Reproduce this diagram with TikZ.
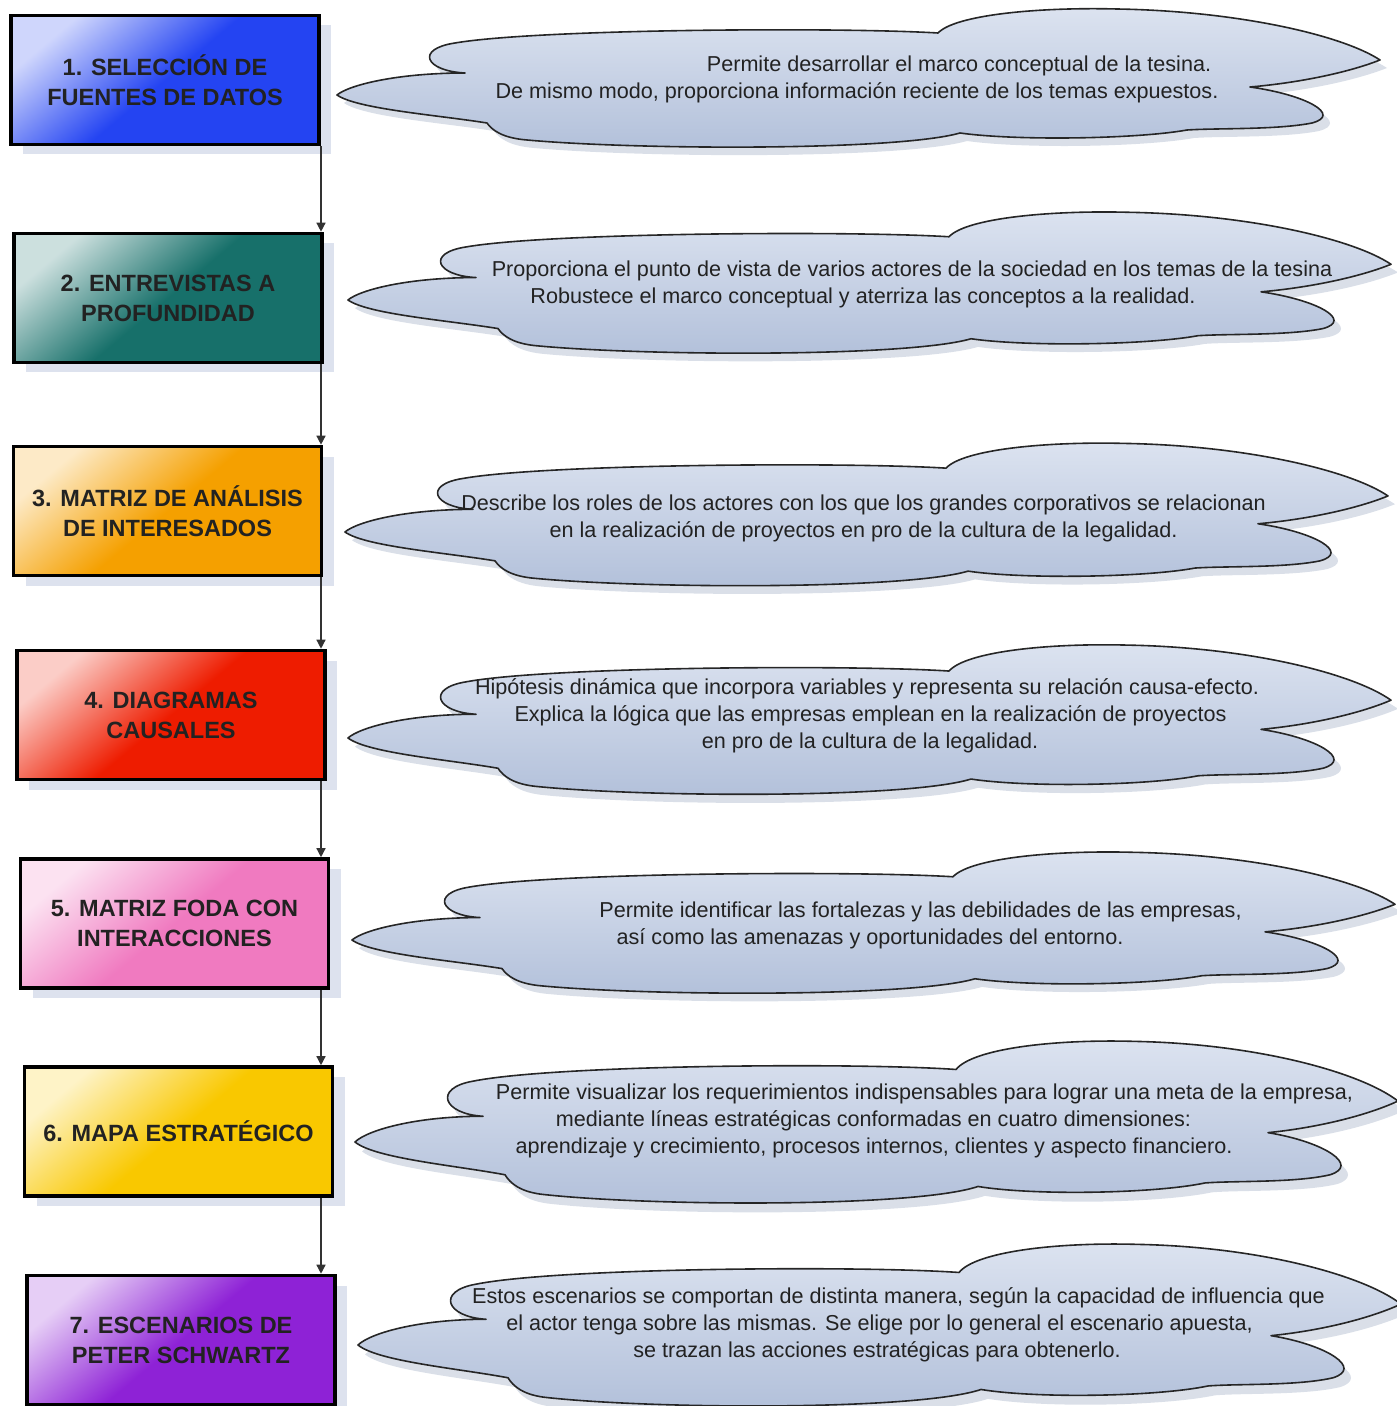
\documentclass[tikz,border=0pt]{standalone}
\usepackage{fontspec}
\setmainfont{Liberation Sans}
\usetikzlibrary{arrows.meta,shadows}

\definecolor{bluebase}{HTML}{2444F2}
\definecolor{tealbase}{HTML}{17706A}
\definecolor{orangebase}{HTML}{F5A000}
\definecolor{redbase}{HTML}{EE1C00}
\definecolor{pinkbase}{HTML}{F07AC0}
\definecolor{yellowbase}{HTML}{F9C800}
\definecolor{purplebase}{HTML}{8E22D6}
\definecolor{boxshadowc}{HTML}{DDE2EE}
\definecolor{cloudtop}{HTML}{DCE3F0}
\definecolor{cloudbot}{HTML}{B2C0DA}
\definecolor{cloudshadowc}{HTML}{DADFE8}
\definecolor{linkc}{HTML}{333333}
\definecolor{inkc}{HTML}{222222}

% outline of one description cloud, drawn from its left tip (units: px, y down)
\newcommand\cloudshape{%
  (0,0) .. controls (12,-10) and (60,-22) .. (128,-22)
  .. controls (88,-24) and (78,-46) .. (118,-52)
  .. controls (200,-66) and (500,-68) .. (601,-62)
  .. controls (618,-80) and (700,-88) .. (780,-86)
  .. controls (900,-84) and (1005,-60) .. (1043,-35)
  .. controls (1010,-22) and (960,-12) .. (913,-8)
  .. controls (970,0) and (1005,20) .. (975,28)
  .. controls (940,35) and (880,33) .. (850,35)
  .. controls (800,44) and (680,46) .. (623,38)
  .. controls (560,56) and (300,55) .. (190,45)
  .. controls (165,43) and (155,35) .. (150,28)
  .. controls (100,20) and (20,14) .. (0,0) -- cycle}

% cloud with its soft shadow: tip x, tip y, vertical scale
\newcommand\drawcloud[3]{%
  \begin{scope}[shift={(#1,#2)}, yscale=#3]
    \fill[cloudshadowc, shift={(7,8)}] \cloudshape;
    \shade[draw=black!85, line width=0.8pt, line join=round,
           top color=cloudtop, bottom color=cloudbot] \cloudshape;
  \end{scope}}

\begin{document}
\begin{tikzpicture}[x=0.5pt, y=-0.5pt,
  stepbox/.style={draw=black, line width=1.8pt, minimum width=154pt,
    minimum height=64.5pt, inner sep=0pt, align=center, text=inkc,
    font=\fontsize{11.75}{15}\selectfont\bfseries,
    drop shadow={shadow xshift=6pt, shadow yshift=-5pt, fill=boxshadowc, draw=none, opacity=1},
    top color=#1!22!white, bottom color=#1, middle color=#1, shading angle=40},
  cloudtext/.style={anchor=base, inner sep=0pt, text=inkc,
    font=\fontsize{10.8}{13.5}\selectfont},
  link/.style={draw=linkc, line width=0.7pt, -{Triangle[width=4.5pt,length=4.5pt]}}]

\useasboundingbox (0,0) rectangle (1396,1406);

% description clouds
\drawcloud{337}{95}{1.00}
\drawcloud{348}{300}{1.02}
\drawcloud{345}{532}{1.03}
\drawcloud{348}{738}{1.08}
\drawcloud{352}{940}{1.02}
\drawcloud{355}{1142}{1.17}
\drawcloud{358}{1345}{1.17}

% method steps
\node[stepbox=bluebase]   (b1) at (165,80)    {1. SELECCIÓN DE\\FUENTES DE DATOS};
\node[stepbox=tealbase]   (b2) at (168,298)   {2. ENTREVISTAS A\\PROFUNDIDAD};
\node[stepbox=orangebase] (b3) at (167.5,511) {3. MATRIZ DE ANÁLISIS\\DE INTERESADOS};
\node[stepbox=redbase]    (b4) at (171,715)   {4. DIAGRAMAS\\CAUSALES};
\node[stepbox=pinkbase]   (b5) at (174.5,923.5) {5. MATRIZ FODA CON\\INTERACCIONES};
\node[stepbox=yellowbase] (b6) at (178.5,1131.5) {6. MAPA ESTRATÉGICO};
\node[stepbox=purplebase] (b7) at (181,1340)  {7. ESCENARIOS DE\\PETER SCHWARTZ};

% the vertical flow line runs at a fixed x
\coordinate (flow) at (321,0);
\draw[link] (b1.south -| flow) -- (b2.north -| flow);
\draw[link] (b2.south -| flow) -- (b3.north -| flow);
\draw[link] (b3.south -| flow) -- (b4.north -| flow);
\draw[link] (b4.south -| flow) -- (b5.north -| flow);
\draw[link] (b5.south -| flow) -- (b6.north -| flow);
\draw[link] (b6.south -| flow) -- (b7.north -| flow);

% cloud texts
\node[cloudtext] (t1a) at (959,72)   {Permite desarrollar el marco conceptual de la tesina.};
\node[cloudtext] (t1b) at (857,99)   {De mismo modo, proporciona información reciente de los temas expuestos.};
\node[cloudtext] (t2a) at (912,277)  {Proporciona el punto de vista de varios actores de la sociedad en los temas de la tesina};
\node[cloudtext] (t2b) at (863,304)  {Robustece el marco conceptual y aterriza las conceptos a la realidad.};
\node[cloudtext] (t3a) at (863.5,510) {Describe los roles de los actores con los que los grandes corporativos se relacionan};
\node[cloudtext] (t3b) at (863.5,537) {en la realización de proyectos en pro de la cultura de la legalidad.};
\node[cloudtext] (t4a) at (867,694)  {Hipótesis dinámica que incorpora variables y representa su relación causa-efecto.};
\node[cloudtext] (t4b) at (870.5,721) {Explica la lógica que las empresas emplean en la realización de proyectos};
\node[cloudtext] (t4c) at (870,748)  {en pro de la cultura de la legalidad.};
\node[cloudtext] (t5a) at (920.5,917) {Permite identificar las fortalezas y las debilidades de las empresas,};
\node[cloudtext] (t5b) at (870,944)  {así como las amenazas y oportunidades del entorno.};
\node[cloudtext] (t6a) at (924.5,1099) {Permite visualizar los requerimientos indispensables para lograr una meta de la empresa,};
\node[cloudtext] (t6b) at (873.5,1126) {mediante líneas estratégicas conformadas en cuatro dimensiones:};
\node[cloudtext] (t6c) at (874,1153) {aprendizaje y crecimiento, procesos internos, clientes y aspecto financiero.};
\node[cloudtext] (t7a) at (898.5,1303) {Estos escenarios se comportan de distinta manera, según la capacidad de influencia que};
\node[cloudtext] (t7b) at (879.5,1330) {el actor tenga sobre las mismas. Se elige por lo general el escenario apuesta,};
\node[cloudtext] (t7c) at (877,1357) {se trazan las acciones estratégicas para obtenerlo.};
\end{tikzpicture}
\end{document}
